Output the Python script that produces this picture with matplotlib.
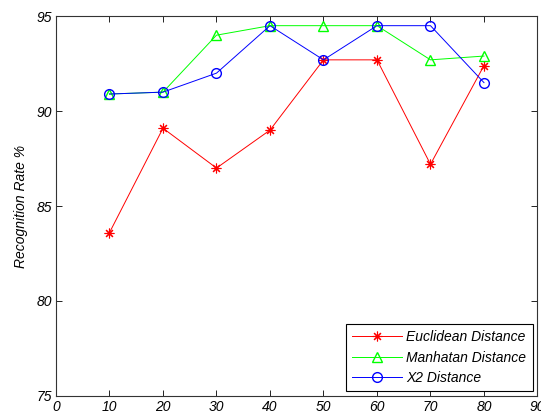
import matplotlib
matplotlib.use('Agg')
import matplotlib.pyplot as plt

plt.rcParams['font.family'] = 'Liberation Sans'
plt.rcParams['font.style'] = 'italic'
plt.rcParams['font.size'] = 10

# Data
k_values = [10, 20, 30, 40, 50, 60, 70, 80]
euclidean = [83.6, 89.1, 87.0, 89.0, 92.7, 92.7, 87.2, 92.4]
manhatan = [90.9, 91.0, 94.0, 94.5, 94.5, 94.5, 92.7, 92.9]
x2 = [90.9, 91.0, 92.0, 94.5, 92.7, 94.5, 94.5, 91.5]

fig = plt.figure(figsize=(5.41, 4.15), dpi=100)
ax = fig.add_axes([0.1035, 0.046, 0.89, 0.915])

ax.plot(k_values, euclidean, color='red', marker=(8, 2, 0), markersize=7, linewidth=0.7,
        markeredgewidth=0.8, label='Euclidean Distance')
ax.plot(k_values, manhatan, color='#00ff00', marker='^', markersize=7, linewidth=0.7,
        markerfacecolor='none', label='Manhatan Distance')
ax.plot(k_values, x2, color='blue', marker='o', markersize=7, linewidth=0.7,
        markerfacecolor='none', label='X2 Distance')

ax.set_xlim(0, 90)
ax.set_ylim(75, 95)
ax.set_xticks(range(0, 91, 10))
ax.set_yticks(range(75, 96, 5))
ax.tick_params(direction='in', top=True, right=True, length=4, width=0.6, pad=3)
for s in ax.spines.values():
    s.set_linewidth(0.8)
    s.set_color('#333333')
ax.set_ylabel('Recognition Rate %', labelpad=6)

leg = ax.legend(loc='lower right', fancybox=False, edgecolor='black', framealpha=1,
                borderaxespad=0.35, handlelength=3.6, fontsize=10, labelspacing=0.45,
                borderpad=0.45, handletextpad=0.3)
leg.get_frame().set_linewidth(0.8)

fig.savefig('out.png', dpi=100)
